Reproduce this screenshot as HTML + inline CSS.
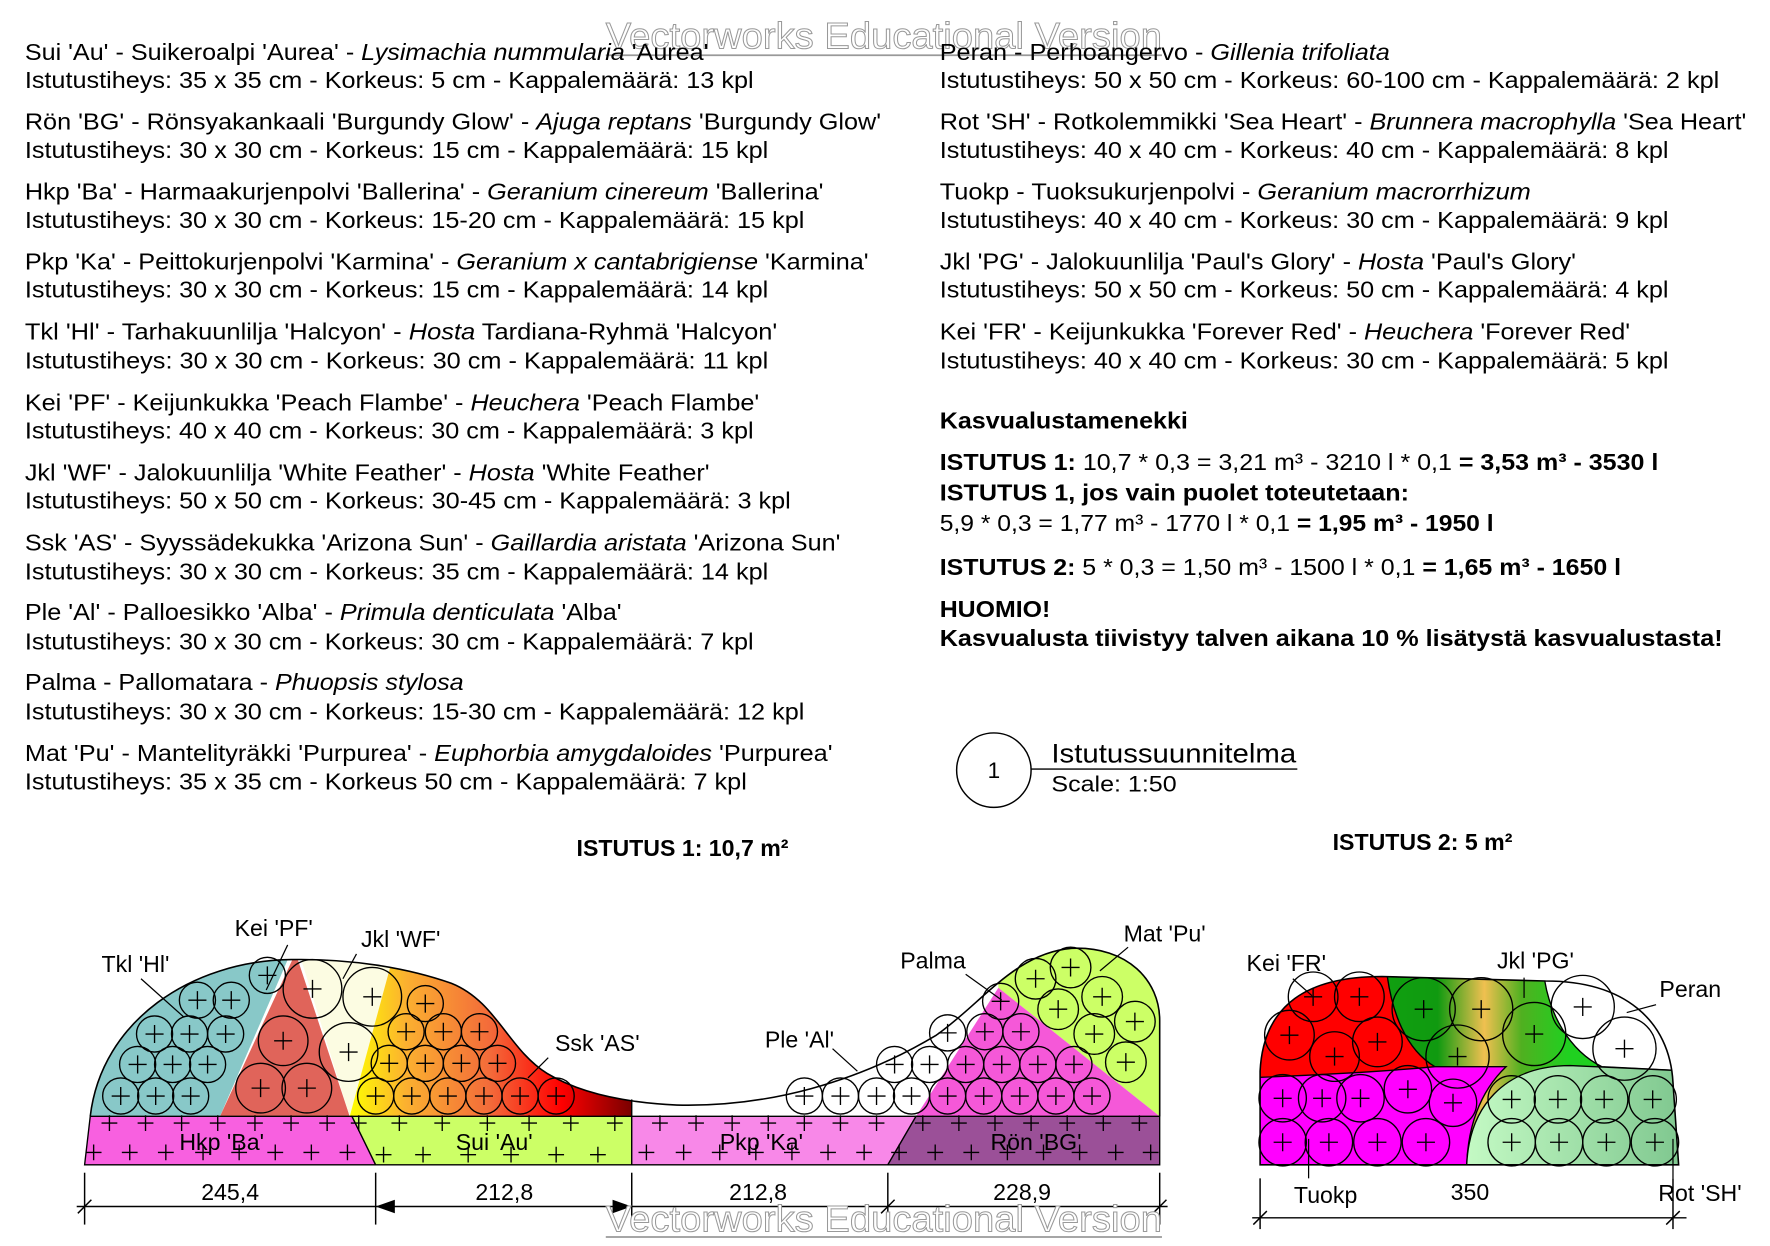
<!DOCTYPE html>
<html><head><meta charset="utf-8"><title>Istutussuunnitelma</title>
<style>
html,body{margin:0;padding:0;background:#fff;}
svg{display:block;font-family:"Liberation Sans",Arial,sans-serif;}
.t{font-size:20.5px;fill:#000;}
.i{font-style:italic;}
.b{font-weight:bold;}
.lbl{font-size:20.5px;fill:#000;}
.wm{font-size:33px;fill:#fff;stroke:#999;stroke-width:0.9;}
</style></head>
<body>
<svg id="sv" width="1770" height="1246" viewBox="0 0 1569 1105" preserveAspectRatio="none" xmlns="http://www.w3.org/2000/svg">
<defs>
<linearGradient id="gSsk" gradientUnits="userSpaceOnUse" x1="310" y1="0" x2="560" y2="0">
<stop offset="0" stop-color="#ffff00"/><stop offset="0.2" stop-color="#fbb030"/><stop offset="0.5" stop-color="#f36a3a"/><stop offset="0.75" stop-color="#ff0000"/><stop offset="1" stop-color="#7a0000"/></linearGradient>
<linearGradient id="gPG" gradientUnits="userSpaceOnUse" x1="1225" y1="0" x2="1390" y2="0">
<stop offset="0" stop-color="#10a010"/><stop offset="0.3" stop-color="#109a10"/><stop offset="0.55" stop-color="#f0c050"/><stop offset="0.75" stop-color="#50b020"/><stop offset="1" stop-color="#20d020"/></linearGradient>
<linearGradient id="gSH" gradientUnits="userSpaceOnUse" x1="1300" y1="0" x2="1488" y2="0">
<stop offset="0" stop-color="#c4fac4"/><stop offset="1" stop-color="#80c890"/></linearGradient>
<clipPath id="c1"><path d="M80,990 C90,905 170,852 258,851 C310,850 360,858 400,872 C440,888 450,930 485,952 C515,970 555,978 600,980 C680,982 760,960 830,918 C870,890 900,845 950,841 C1000,839 1028,870 1028,905 L1028,990 Z"/></clipPath>
<clipPath id="c2"><path d="M1117,1033 L1117,950 C1120,890 1160,866 1225,866 L1370,870 C1440,870 1480,905 1483,960 L1488,1033 Z"/></clipPath>
</defs>

<text class="wm" x="537" y="43" textLength="493" lengthAdjust="spacingAndGlyphs">Vectorworks Educational Version</text>
<line x1="537" y1="49" x2="1030" y2="49" stroke="#999" stroke-width="1.5"/>

<g>
<text class="t" x="22" y="53" textLength="606" lengthAdjust="spacingAndGlyphs">Sui 'Au' - Suikeroalpi 'Aurea' - <tspan class="i">Lysimachia nummularia</tspan> 'Aurea'</text>
<text class="t" x="22" y="78" textLength="646" lengthAdjust="spacingAndGlyphs">Istutustiheys: 35 x 35 cm - Korkeus: 5 cm - Kappalemäärä: 13 kpl</text>
<text class="t" x="22" y="115" textLength="759" lengthAdjust="spacingAndGlyphs">Rön 'BG' - Rönsyakankaali 'Burgundy Glow' - <tspan class="i">Ajuga reptans</tspan> 'Burgundy Glow'</text>
<text class="t" x="22" y="140" textLength="659" lengthAdjust="spacingAndGlyphs">Istutustiheys: 30 x 30 cm - Korkeus: 15 cm - Kappalemäärä: 15 kpl</text>
<text class="t" x="22" y="177" textLength="708" lengthAdjust="spacingAndGlyphs">Hkp 'Ba' - Harmaakurjenpolvi 'Ballerina' - <tspan class="i">Geranium cinereum</tspan> 'Ballerina'</text>
<text class="t" x="22" y="202" textLength="691" lengthAdjust="spacingAndGlyphs">Istutustiheys: 30 x 30 cm - Korkeus: 15-20 cm - Kappalemäärä: 15 kpl</text>
<text class="t" x="22" y="239" textLength="748" lengthAdjust="spacingAndGlyphs">Pkp 'Ka' - Peittokurjenpolvi 'Karmina' - <tspan class="i">Geranium x cantabrigiense</tspan> 'Karmina'</text>
<text class="t" x="22" y="264" textLength="659" lengthAdjust="spacingAndGlyphs">Istutustiheys: 30 x 30 cm - Korkeus: 15 cm - Kappalemäärä: 14 kpl</text>
<text class="t" x="22" y="301" textLength="667" lengthAdjust="spacingAndGlyphs">Tkl 'Hl' - Tarhakuunlilja 'Halcyon' - <tspan class="i">Hosta</tspan> Tardiana-Ryhmä 'Halcyon'</text>
<text class="t" x="22" y="327" textLength="659" lengthAdjust="spacingAndGlyphs">Istutustiheys: 30 x 30 cm - Korkeus: 30 cm - Kappalemäärä: 11 kpl</text>
<text class="t" x="22" y="364" textLength="651" lengthAdjust="spacingAndGlyphs">Kei 'PF' - Keijunkukka 'Peach Flambe' - <tspan class="i">Heuchera</tspan> 'Peach Flambe'</text>
<text class="t" x="22" y="389" textLength="646" lengthAdjust="spacingAndGlyphs">Istutustiheys: 40 x 40 cm - Korkeus: 30 cm - Kappalemäärä: 3 kpl</text>
<text class="t" x="22" y="426" textLength="607" lengthAdjust="spacingAndGlyphs">Jkl 'WF' - Jalokuunlilja 'White Feather' - <tspan class="i">Hosta</tspan> 'White Feather'</text>
<text class="t" x="22" y="451" textLength="679" lengthAdjust="spacingAndGlyphs">Istutustiheys: 50 x 50 cm - Korkeus: 30-45 cm - Kappalemäärä: 3 kpl</text>
<text class="t" x="22" y="488" textLength="723" lengthAdjust="spacingAndGlyphs">Ssk 'AS' - Syyssädekukka 'Arizona Sun' - <tspan class="i">Gaillardia aristata</tspan> 'Arizona Sun'</text>
<text class="t" x="22" y="514" textLength="659" lengthAdjust="spacingAndGlyphs">Istutustiheys: 30 x 30 cm - Korkeus: 35 cm - Kappalemäärä: 14 kpl</text>
<text class="t" x="22" y="550" textLength="529" lengthAdjust="spacingAndGlyphs">Ple 'Al' - Palloesikko 'Alba' - <tspan class="i">Primula denticulata</tspan> 'Alba'</text>
<text class="t" x="22" y="576" textLength="646" lengthAdjust="spacingAndGlyphs">Istutustiheys: 30 x 30 cm - Korkeus: 30 cm - Kappalemäärä: 7 kpl</text>
<text class="t" x="22" y="612" textLength="389" lengthAdjust="spacingAndGlyphs">Palma - Pallomatara - <tspan class="i">Phuopsis stylosa</tspan></text>
<text class="t" x="22" y="638" textLength="691" lengthAdjust="spacingAndGlyphs">Istutustiheys: 30 x 30 cm - Korkeus: 15-30 cm - Kappalemäärä: 12 kpl</text>
<text class="t" x="22" y="675" textLength="716" lengthAdjust="spacingAndGlyphs">Mat 'Pu' - Mantelityräkki 'Purpurea' - <tspan class="i">Euphorbia amygdaloides</tspan> 'Purpurea'</text>
<text class="t" x="22" y="700" textLength="640" lengthAdjust="spacingAndGlyphs">Istutustiheys: 35 x 35 cm - Korkeus 50 cm - Kappalemäärä: 7 kpl</text>
</g>

<g>
<text class="t" x="833" y="53" textLength="399" lengthAdjust="spacingAndGlyphs">Peran - Perhoangervo - <tspan class="i">Gillenia trifoliata</tspan></text>
<text class="t" x="833" y="78" textLength="691" lengthAdjust="spacingAndGlyphs">Istutustiheys: 50 x 50 cm - Korkeus: 60-100 cm - Kappalemäärä: 2 kpl</text>
<text class="t" x="833" y="115" textLength="715" lengthAdjust="spacingAndGlyphs">Rot 'SH' - Rotkolemmikki 'Sea Heart' - <tspan class="i">Brunnera macrophylla</tspan> 'Sea Heart'</text>
<text class="t" x="833" y="140" textLength="646" lengthAdjust="spacingAndGlyphs">Istutustiheys: 40 x 40 cm - Korkeus: 40 cm - Kappalemäärä: 8 kpl</text>
<text class="t" x="833" y="177" textLength="524" lengthAdjust="spacingAndGlyphs">Tuokp - Tuoksukurjenpolvi - <tspan class="i">Geranium macrorrhizum</tspan></text>
<text class="t" x="833" y="202" textLength="646" lengthAdjust="spacingAndGlyphs">Istutustiheys: 40 x 40 cm - Korkeus: 30 cm - Kappalemäärä: 9 kpl</text>
<text class="t" x="833" y="239" textLength="564" lengthAdjust="spacingAndGlyphs">Jkl 'PG' - Jalokuunlilja 'Paul's Glory' - <tspan class="i">Hosta</tspan> 'Paul's Glory'</text>
<text class="t" x="833" y="264" textLength="646" lengthAdjust="spacingAndGlyphs">Istutustiheys: 50 x 50 cm - Korkeus: 50 cm - Kappalemäärä: 4 kpl</text>
<text class="t" x="833" y="301" textLength="612" lengthAdjust="spacingAndGlyphs">Kei 'FR' - Keijunkukka 'Forever Red' - <tspan class="i">Heuchera</tspan> 'Forever Red'</text>
<text class="t" x="833" y="327" textLength="646" lengthAdjust="spacingAndGlyphs">Istutustiheys: 40 x 40 cm - Korkeus: 30 cm - Kappalemäärä: 5 kpl</text>
<text class="t b" x="833" y="380" textLength="220" lengthAdjust="spacingAndGlyphs">Kasvualustamenekki</text>
<text class="t" x="833" y="417" textLength="637" lengthAdjust="spacingAndGlyphs"><tspan class="b">ISTUTUS 1:</tspan> 10,7 * 0,3 = 3,21 m³ - 3210 l * 0,1 <tspan class="b">= 3,53 m³ - 3530 l</tspan></text>
<text class="t b" x="833" y="444" textLength="416" lengthAdjust="spacingAndGlyphs">ISTUTUS 1, jos vain puolet toteutetaan:</text>
<text class="t" x="833" y="471" textLength="491" lengthAdjust="spacingAndGlyphs">5,9 * 0,3 = 1,77 m³ - 1770 l * 0,1 <tspan class="b">= 1,95 m³ - 1950 l</tspan></text>
<text class="t" x="833" y="510" textLength="604" lengthAdjust="spacingAndGlyphs"><tspan class="b">ISTUTUS 2:</tspan> 5 * 0,3 = 1,50 m³ - 1500 l * 0,1 <tspan class="b">= 1,65 m³ - 1650 l</tspan></text>
<text class="t b" x="833" y="547" textLength="98" lengthAdjust="spacingAndGlyphs">HUOMIO!</text>
<text class="t b" x="833" y="573" textLength="694" lengthAdjust="spacingAndGlyphs">Kasvualusta tiivistyy talven aikana 10 % lisätystä kasvualustasta!</text>
</g>

<g>
<circle cx="881" cy="683" r="33" fill="none" stroke="#000" stroke-width="1.3"/>
<text x="881" y="690" text-anchor="middle" style="font-size:20px">1</text>
<line x1="914" y1="682" x2="1150" y2="682" stroke="#000" stroke-width="1.2"/>
<text x="932" y="676" style="font-size:24px" textLength="217" lengthAdjust="spacingAndGlyphs">Istutussuunnitelma</text>
<text x="932" y="702" style="font-size:20px" textLength="111" lengthAdjust="spacingAndGlyphs">Scale: 1:50</text>
</g>
<text class="t b" x="605" y="759" text-anchor="middle">ISTUTUS 1: 10,7 m²</text>
<text class="t b" x="1261" y="754" text-anchor="middle">ISTUTUS 2: 5 m²</text>

<g id="bed1">
<g clip-path="url(#c1)">
<rect x="60" y="820" width="1000" height="180" fill="#fff"/>
<polygon points="60,990 195,990 262,835 60,835" fill="#88c8c8"/>
<polygon points="195,990 262,845 310,990" fill="#e0645a"/>
<polygon points="262,835 310,990 352,835" fill="#fcfce2"/>
<polygon points="310,990 352,835 560,835 560,990" fill="url(#gSsk)"/>
<polygon points="885,876 885,820 1040,820 1040,990 1028,990" fill="#ccff66"/>
<polygon points="812,990 885,876 1028,990" fill="#f558d8"/>
</g>
<line x1="560" y1="975" x2="560" y2="990" stroke="#000" stroke-width="1.2"/>
<path d="M80,990 C90,905 170,852 258,851 C310,850 360,858 400,872 C440,888 450,930 485,952 C515,970 555,978 600,980 C680,982 760,960 830,918 C870,890 900,845 950,841 C1000,839 1028,870 1028,905 L1028,990" fill="none" stroke="#000" stroke-width="1.4"/>
<polygon points="80,990 312,990 333,1033 75,1033" fill="#f860e0" stroke="#000" stroke-width="1.2"/>
<polygon points="312,990 560,990 560,1033 333,1033" fill="#ccff66" stroke="#000" stroke-width="1.2"/>
<polygon points="560,990 812,990 787,1033 560,1033" fill="#f888e8" stroke="#000" stroke-width="1.2"/>
<polygon points="812,990 1028,990 1028,1033 787,1033" fill="#9b5098" stroke="#000" stroke-width="1.2"/>
</g>

<g id="bed2">
<g clip-path="url(#c2)">
<rect x="1100" y="850" width="400" height="190" fill="url(#gPG)"/>
<path d="M1100,960 L1100,850 L1228,850 C1232,900 1248,932 1272,946 C1230,952 1150,952 1100,960 Z" fill="#ff0000" stroke="#000" stroke-width="1.2"/>
<path d="M1368,860 C1372,900 1392,932 1420,946 L1500,950 L1500,860 Z" fill="#fff" stroke="#000" stroke-width="1.2"/>
<path d="M1100,956 C1160,954 1230,950 1272,946 L1335,946 C1312,968 1300,1000 1300,1040 L1100,1040 Z" fill="#ff00ff" stroke="#000" stroke-width="1.2"/>
<path d="M1300,1040 C1300,980 1335,945 1392,945 L1500,950 L1500,1040 Z" fill="url(#gSH)" stroke="#000" stroke-width="1.2"/>
</g>
<path d="M1117,1033 L1117,950 C1120,890 1160,866 1225,866 L1370,870 C1440,870 1480,905 1483,960 L1488,1033 Z" fill="none" stroke="#000" stroke-width="1.4"/>
</g>

<g id="marks"></g>

<g stroke="#000" stroke-width="1.1">
<line x1="125" y1="868" x2="163" y2="902"/>
<line x1="255" y1="838" x2="236" y2="878"/>
<line x1="316" y1="846" x2="304" y2="868"/>
<line x1="486" y1="938" x2="468" y2="956"/>
<line x1="738" y1="930" x2="760" y2="950"/>
<line x1="856" y1="864" x2="888" y2="887"/>
<line x1="1000" y1="840" x2="975" y2="861"/>
<line x1="1146" y1="868" x2="1163" y2="883"/>
<line x1="1351" y1="867" x2="1351" y2="885"/>
<line x1="1468" y1="891" x2="1442" y2="898"/>
<line x1="1160" y1="1010" x2="1160" y2="1045"/>
<line x1="1483" y1="1010" x2="1483" y2="1045"/>
</g>
<g>
<text class="lbl" x="90" y="862">Tkl 'Hl'</text>
<text class="lbl" x="208" y="830">Kei 'PF'</text>
<text class="lbl" x="320" y="840">Jkl 'WF'</text>
<text class="lbl" x="492" y="932">Ssk 'AS'</text>
<text class="lbl" x="678" y="929">Ple 'Al'</text>
<text class="lbl" x="798" y="859">Palma</text>
<text class="lbl" x="996" y="835">Mat 'Pu'</text>
<text class="lbl" x="159" y="1020">Hkp 'Ba'</text>
<text class="lbl" x="404" y="1020">Sui 'Au'</text>
<text class="lbl" x="638" y="1020">Pkp 'Ka'</text>
<text class="lbl" x="878" y="1020">Rön 'BG'</text>
<text class="lbl" x="1105" y="861">Kei 'FR'</text>
<text class="lbl" x="1327" y="859">Jkl 'PG'</text>
<text class="lbl" x="1471" y="884">Peran</text>
<text class="lbl" x="1147" y="1067">Tuokp</text>
<text class="lbl" x="1470" y="1065">Rot 'SH'</text>
</g>

<g stroke="#000" stroke-width="1.3">
<line x1="68" y1="1070" x2="1035" y2="1070"/>
<line x1="75" y1="1040" x2="75" y2="1086"/>
<line x1="333" y1="1040" x2="333" y2="1086"/>
<line x1="560" y1="1040" x2="560" y2="1086"/>
<line x1="787" y1="1040" x2="787" y2="1086"/>
<line x1="1028" y1="1040" x2="1028" y2="1086"/>
<line x1="69" y1="1076" x2="81" y2="1064"/><line x1="781" y1="1076" x2="793" y2="1064"/><line x1="1022" y1="1076" x2="1034" y2="1064"/>
<line x1="1110" y1="1080" x2="1495" y2="1080"/>
<line x1="1117" y1="1045" x2="1117" y2="1090"/>
<line x1="1483" y1="1045" x2="1483" y2="1090"/>
<line x1="1111" y1="1086" x2="1123" y2="1074"/><line x1="1477" y1="1086" x2="1489" y2="1074"/>
</g>
<polygon points="333,1070 350,1064 350,1076" fill="#000"/>
<polygon points="560,1070 543,1064 543,1076" fill="#000"/>
<g>
<text class="lbl" x="204" y="1064" text-anchor="middle">245,4</text>
<text class="lbl" x="447" y="1064" text-anchor="middle">212,8</text>
<text class="lbl" x="672" y="1064" text-anchor="middle">212,8</text>
<text class="lbl" x="906" y="1064" text-anchor="middle">228,9</text>
<text class="lbl" x="1303" y="1064" text-anchor="middle">350</text>
</g>

<text class="wm" x="537" y="1092" textLength="493" lengthAdjust="spacingAndGlyphs">Vectorworks Educational Version</text>
<line x1="537" y1="1097" x2="1030" y2="1097" stroke="#999" stroke-width="1.5"/>
</svg>
<script>
var tklX=[237,175,205,137,168,200,122,153,184,107,138,169];
var tklY=[865,887,887,917,917,917,944,944,944,972,972,972];
var keiPFX=[251,231,272]; var keiPFY=[923,965,965];
var jklWFX=[277,330,309]; var jklWFY=[877,884,933];
var sskX=[377,360,393,425,345,377,409,441,333,365,397,429,461,493];
var sskY=[890,915,915,915,943,943,943,943,972,972,972,972,972,972];
var pleX=[713,745,777,808,793,824,840]; var pleY=[972,972,972,972,944,944,916];
var palmaX=[887,873,905,856,888,920,952,840,872,904,936,968];
var palmaY=[888,915,915,944,944,944,944,972,972,972,972,972];
var matX=[949,918,977,938,1006,970,998]; var matY=[858,868,884,895,906,917,942];
var keiFRX=[1164,1205,1143,1183,1221]; var keiFRY=[884,884,918,937,924];
var jklPGX=[1262,1313,1292,1360]; var jklPGY=[895,895,937,917];
var peranX=[1403,1440]; var peranY=[893,930];
var tuokpX=[1137,1172,1206,1248,1288,1137,1178,1221,1264]; var tuokpY=[974,974,974,966,978,1013,1013,1013,1013];
var rotX=[1340,1381,1422,1465,1340,1382,1424,1467]; var rotY=[975,975,975,975,1013,1013,1013,1013];
var plusX=[97,129,161,193,226,258,290,83,115,147,180,212,244,276,308,318,354,392,432,469,506,545,340,375,415,453,493,530,585,617,649,681,713,745,777,573,606,638,670,702,734,766,818,850,882,914,946,978,1010,797,829,861,893,925,957,989,1020];
var plusY=[996,996,996,996,996,996,996,1022,1022,1022,1022,1022,1022,1022,1022,996,996,996,996,996,996,996,1024,1024,1024,1024,1024,1024,996,996,996,996,996,996,996,1022,1022,1022,1022,1022,1022,1022,996,996,996,996,996,996,996,1022,1022,1022,1022,1022,1022,1022,1022];
var NS='http://www.w3.org/2000/svg';
var g=document.getElementById('marks');
function plus(x,y,s){
  var p=document.createElementNS(NS,'path');
  p.setAttribute('d','M'+(x-s)+','+y+'H'+(x+s)+'M'+x+','+(y-s)+'V'+(y+s));
  p.setAttribute('stroke','#000');p.setAttribute('stroke-width','1.2');
  
  
  g.appendChild(p);
}
function plants(xs,ys,r,name){
  for(var i=0;i<xs.length;i++){
    var c=document.createElementNS(NS,'circle');
    c.setAttribute('cx',xs[i]);c.setAttribute('cy',ys[i]);c.setAttribute('r',r);
    c.setAttribute('fill','none');c.setAttribute('stroke','#000');c.setAttribute('stroke-width','1.2');
    
    
    g.appendChild(c);
    plus(xs[i],ys[i],8);
  }
}
plants(tklX,tklY,16,'plant-tkl-hl');
plants(keiPFX,keiPFY,22,'plant-kei-pf');
plants(jklWFX,jklWFY,26,'plant-jkl-wf');
plants(sskX,sskY,16,'plant-ssk-as');
plants(pleX,pleY,16,'plant-ple-al');
plants(palmaX,palmaY,16,'plant-palma');
plants(matX,matY,18,'plant-mat-pu');
plants(keiFRX,keiFRY,22,'plant-kei-fr');
plants(jklPGX,jklPGY,28,'plant-jkl-pg');
plants(peranX,peranY,28,'plant-peran');
plants(tuokpX,tuokpY,21,'plant-tuokp');
plants(rotX,rotY,21,'plant-rot-sh');
for(var k=0;k<plusX.length;k++){plus(plusX[k],plusY[k],7);}
</script>
</body></html>
